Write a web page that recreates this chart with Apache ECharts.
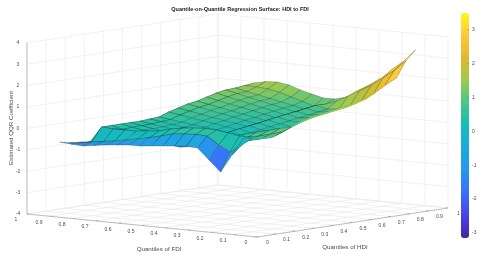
<!DOCTYPE html>
<html><head><meta charset="utf-8">
<style>html,body{margin:0;padding:0;background:#fff}#c{width:480px;height:258px;filter:blur(.35px)}</style>
<script src="https://cdn.jsdelivr.net/npm/echarts@6/dist/echarts.min.js"></script></head>
<body><div id="c"></div>
<script>
var titleText = 'Quantile-on-Quantile Regression Surface: HDI to FDI';
var hdiQuantiles = [.05,.1,.15,.2,.25,.3,.35,.4,.45,.5,.55,.6,.65,.7,.75,.8,.85,.9,.95];
var fdiQuantiles = [.1,.15,.2,.25,.3,.35,.4,.45,.5,.55,.6,.65,.7,.75,.8,.85,.9];
// one row per HDI quantile, one column per FDI quantile
var coefficient = [
[.45,-.4,-1.25,-.74,-.23,-.2,-.25,-.3,-.35,-.41,-.41,-.47,-.52,-.6,-.67,-.64,-.6],
[.39,0,-.38,-.1,.26,.28,.25,.2,.05,-.08,-.2,-.3,-.4,-.48,-.56,-.66,-.7],
[.32,.3,.3,.39,.47,.49,.46,.4,.3,.16,.1,.05,.05,.04,.08,-.68,-.75],
[.27,.15,.02,-.1,-.2,-.3,-.4,-.5,-.6,-.54,-.43,-.32,-.19,-.05,.08,-.7,-.8],
[.46,.3,.16,.04,-.08,-.2,-.32,-.44,-.54,-.44,-.33,-.22,-.11,-.02,.08,-.7,-.9],
[.63,.5,.36,.22,.08,-.06,-.2,-.34,-.48,-.38,-.29,-.2,-.1,-.01,.08,-.6,-.9],
[.79,.45,.1,-.1,-.17,-.22,-.31,-.19,-.41,-.33,-.25,-.17,-.08,0,.08,-.5,-.85],
[.91,.62,.29,-.07,-.22,-.29,-.24,-.11,-.34,-.27,-.19,-.12,-.04,.04,.11,-.4,-.8],
[.98,.76,.45,.12,-.21,-.29,-.17,-.04,-.27,-.2,-.13,-.07,0,.07,.14,-.3,-.7],
[1.06,.84,.6,.29,-.07,-.22,-.1,.03,-.2,-.12,-.03,.05,.13,.22,.3,-.2,-.6],
[1.13,.9,.69,.43,.12,-.15,-.03,.09,-.13,-.04,.05,.14,.23,.33,.42,-.1,-.5],
[1.18,.98,.76,.55,.26,-.05,.04,.17,-.06,.04,.14,.24,.34,.44,.54,0,-.4],
[1.32,1.03,.83,.6,.39,.1,.11,.24,.01,.11,.21,.31,.41,.51,.61,.1,-.3],
[1.44,1.15,.88,.67,.45,.24,.18,.31,.08,.19,.3,.41,.51,.62,.73,.2,-.2],
[1.7,1.27,.98,.74,.52,.31,.25,.37,.15,.27,.38,.5,.62,.73,.85,.3,-.1],
[1.96,1.53,1.13,.84,.6,.38,.32,.44,.22,.34,.46,.58,.69,.81,.93,.4,0],
[2.17,1.77,1.31,.98,.69,.45,.39,.51,.29,.4,.51,.62,.73,.84,.95,.5,.1],
[2.9,2.4,2,1.6,1.3,1,.7,.5,.36,.52,.68,.84,.95,.98,1,.6,.2],
[3.35,2.78,2.35,1.87,1.5,1.2,.82,.68,.67,.8,.94,1.12,1.2,1.17,1.05,.7,.3]
];
var unitTicks = [0,.1,.2,.3,.4,.5,.6,.7,.8,.9,1];
var unitLabels = ['0','0.1','0.2','0.3','0.4','0.5','0.6','0.7','0.8','0.9','1'];
var zTicks = [-4,-3,-2,-1,0,1,2,3,4];
var barTicks = [-3,-2,-1,0,1,2,3];
var barMin = -3.15, barMax = 3.5;
var parula = ['#3e26a8','#4743e7','#3b6ffb','#2797eb','#1caadf','#13beb8','#48c589','#9bca4f','#e1b92e','#fec73a','#f9fb15'];
var creaseColumn = 7;

function project(h, f, z) {
  return [257 + 191*h - 230*f, 237 - 29*h - 23*f - 21.4*(z + 4)];
}
var gridColor = '#e8e8e8', axisColor = '#9a9a9a', textColor = '#4a4a4a';
var lines = [];
unitTicks.forEach(function (t) {
  lines.push([t,1,-4,t,1,4,0],[1,t,-4,1,t,4,0],[t,0,-4,t,1,-4,0],[0,t,-4,1,t,-4,0]);
  lines.push([t,0,-4,t,.012,-4,1],[0,t,-4,.012,t,-4,1]);
});
zTicks.forEach(function (z) {
  lines.push([0,1,z,1,1,z,0],[1,1,z,1,0,z,0]);
});
lines.push([0,0,-4,1,0,-4,1],[0,0,-4,0,1,-4,1],[0,1,-4,0,1,4,1]);

var labels = [];
unitTicks.forEach(function (t, i) {
  labels.push([0,t,-4,-11,6,unitLabels[i]]);
  labels.push([t,0,-4,10.5,6,unitLabels[i]]);
});
zTicks.forEach(function (z) { labels.push([0,1,z,-9,0,String(z)]); });

// facet colour level: the picture's colours run a little apart from the heights
function faceLevel(i, j) {
  if (i === 0) return coefficient[0][j] - .45;
  var v = coefficient[i+1][j];
  if (i === 1) return v;
  return v < 1 ? v + .4 : v > 2 ? v : v + .4*(2 - v);
}
var cells = [];
for (var i = hdiQuantiles.length - 2; i >= 0; i--) {
  for (var j = fdiQuantiles.length - 2; j >= 0; j--) {
    cells.push([i, j, faceLevel(i, j)]);
  }
}
function at(api, h, f, z) { return api.coord(project(h, f, z)); }
function polyArea(p) {
  var s = 0;
  for (var k = 0; k < p.length; k++) { var n = p[(k+1)%p.length]; s += p[k][0]*n[1] - n[0]*p[k][1]; }
  return Math.abs(s)/2;
}

var chart = echarts.init(document.getElementById('c'), null, {renderer:'canvas'});
var barTop = 13, barH = 225, barLeft = 461, barW = 8;
var axisText = {fontSize:6.2, fill:textColor, fontFamily:'Liberation Sans', textAlign:'center', textVerticalAlign:'middle'};
var graphics = [
  {type:'text', x:159, y:249, style:Object.assign({text:'Quantiles of FDI'}, axisText)},
  {type:'text', x:345, y:247, style:Object.assign({text:'Quantiles of HDI'}, axisText)},
  {type:'text', x:11, y:128, rotation:Math.PI/2, style:Object.assign({text:'Estimated QQR Coefficient'}, axisText)}
];
barTicks.forEach(function (v) {
  var y = barTop + (barMax - v)/(barMax - barMin)*barH;
  graphics.push({type:'text', x:472, y:y, z:10, style:{text:String(v), fontSize:5, fill:textColor, fontFamily:'Liberation Sans', textAlign:'left', textVerticalAlign:'middle'}});
  graphics.push({type:'line', z:10, shape:{x1:barLeft+barW-1.5, y1:y, x2:barLeft+barW, y2:y}, style:{stroke:'#666', lineWidth:.5}});
});
chart.setOption({
  animation:false,
  backgroundColor:'#fff',
  title:{text:titleText, left:'center', top:6, textStyle:{fontSize:5.5, fontWeight:'bold', color:'#222', fontFamily:'Liberation Sans'}, padding:0},
  grid:{left:0, top:0, width:480, height:258},
  xAxis:{type:'value', min:0, max:480, show:false},
  yAxis:{type:'value', min:0, max:258, inverse:true, show:false},
  visualMap:{type:'continuous', min:barMin, max:barMax, dimension:2, seriesIndex:1, left:barLeft, top:barTop, itemWidth:barW, itemHeight:barH, calculable:false, realtime:false, text:null, showLabel:false, inRange:{color:parula}, padding:0, textStyle:{fontSize:1, color:'rgba(0,0,0,0)'}},
  graphic:graphics,
  series:[
    {type:'custom', name:'box', coordinateSystem:'cartesian2d', silent:true, clip:false, z:1, data:lines,
     renderItem:function (p, api) {
       var a = at(api, api.value(0), api.value(1), api.value(2));
       var b = at(api, api.value(3), api.value(4), api.value(5));
       return {type:'line', shape:{x1:a[0],y1:a[1],x2:b[0],y2:b[1]}, style:{stroke: api.value(6) ? axisColor : gridColor, lineWidth:.6}};
     }},
    {type:'custom', name:'surface', coordinateSystem:'cartesian2d', silent:true, clip:false, z:3, data:cells,
     encode:{x:0,y:1}, renderItem:function (p, api) {
       var i = api.value(0), j = api.value(1);
       var H = hdiQuantiles, F = fdiQuantiles, Z = coefficient;
       var pts = [
         at(api,H[i],F[j],Z[i][j]), at(api,H[i+1],F[j],Z[i+1][j]),
         at(api,H[i+1],F[j+1],Z[i+1][j+1]), at(api,H[i],F[j+1],Z[i][j+1])];
       var fill = api.visual('color');
       var thin = polyArea(pts) < 16 && j !== creaseColumn && j < 8;
       return {type:'polygon', shape:{points:pts},
         style:{fill:fill, stroke: thin ? fill : 'rgba(25,25,25,.55)', lineWidth: thin ? .3 : .45, lineJoin:'round'}};
     }},
    {type:'custom', name:'ticks', coordinateSystem:'cartesian2d', silent:true, clip:false, z:4,
     data:labels.map(function (l) { return l.slice(0,5); }),
     dimensions:['h','f','z','dx','dy'],
     renderItem:function (p, api) {
       var a = at(api, api.value(0), api.value(1), api.value(2));
       return {type:'text', x:a[0]+api.value(3), y:a[1]+api.value(4),
         style:{text:labels[p.dataIndex][5], fontSize:5, fill:textColor, fontFamily:'Liberation Sans', textAlign:'center', textVerticalAlign:'middle'}};
     }}
  ]
});
</script></body></html>
